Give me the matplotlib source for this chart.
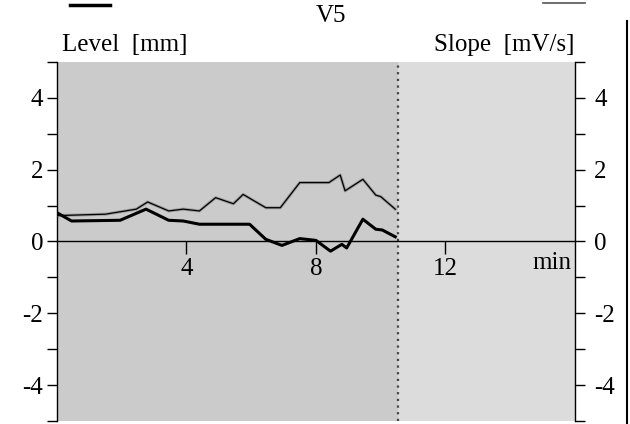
import matplotlib.pyplot as plt
from matplotlib.lines import Line2D

plt.rcParams['font.family'] = ['Liberation Serif', 'DejaVu Serif']

# Level [mm] (thick line)
t_level = [0.0, 0.45, 1.95, 2.75, 3.45, 3.9, 4.4, 5.95, 6.45, 6.95, 7.5, 8.0,
           8.45, 8.8, 8.95, 9.45, 9.85, 10.05, 10.45]
level = [0.80, 0.57, 0.59, 0.90, 0.59, 0.57, 0.48, 0.48, 0.06, -0.11, 0.08, 0.03,
         -0.27, -0.08, -0.18, 0.62, 0.34, 0.32, 0.13]

# Slope [mV/s] (thin line)
t_slope = [0.0, 1.5, 2.45, 2.8, 3.45, 3.9, 4.4, 4.9, 5.45, 5.75, 6.45, 6.9,
           7.5, 8.4, 8.75, 8.9, 9.45, 9.85, 10.0, 10.45]
slope = [0.72, 0.76, 0.90, 1.10, 0.85, 0.90, 0.85, 1.22, 1.05, 1.31, 0.94, 0.94,
         1.64, 1.64, 1.85, 1.41, 1.73, 1.29, 1.25, 0.90]

y_ticks = [-4, -2, 0, 2, 4]
x_ticks = [4, 8, 12]
end_time = 10.55
fs = 18

fig = plt.figure(figsize=(6.3, 4.24), dpi=100)
ax = fig.add_axes([0.0905, 0.007, 0.822, 0.847])
ax.set_xlim(0, 16)
ax.set_ylim(-5, 5)

ax.axvspan(0, end_time, color='#cbcbcb', lw=0, zorder=0)
ax.axvspan(end_time, 16, color='#dcdcdc', lw=0, zorder=0)
ax.axvline(end_time, color='#444444', ls=(0, (1, 2)), lw=1.6, zorder=2)

ax.plot(t_slope, slope, color='#6e6e6e', lw=2.2, alpha=0.5, zorder=3)
ax.plot(t_slope, slope, color='black', lw=0.9, zorder=4)
ax.plot(t_level, level, color='black', lw=2.2, zorder=4)

ax.spines['top'].set_visible(False)
ax.spines['right'].set_visible(False)
ax.spines['bottom'].set_position(('data', 0))
ax.spines['bottom'].set_linewidth(1.0)
ax.spines['left'].set_linewidth(1.0)

ax.set_xticks(x_ticks)
ax.set_xticklabels([str(v) for v in x_ticks], fontsize=fs)
ax.tick_params(axis='x', direction='out', length=9, width=1, pad=3)
ax.set_yticks(y_ticks)
ax.set_yticks(range(-5, 6), minor=True)
ax.set_yticklabels([str(v) for v in y_ticks], fontsize=fs)
ax.tick_params(axis='y', which='both', direction='out', length=7, width=1, pad=3)

ax2 = ax.twinx()
ax2.set_ylim(-5, 5)
ax2.spines['top'].set_visible(False)
ax2.spines['left'].set_visible(False)
ax2.spines['bottom'].set_visible(False)
ax2.spines['right'].set_linewidth(1.0)
ax2.set_yticks(y_ticks)
ax2.set_yticks(range(-5, 6), minor=True)
ax2.set_yticklabels([str(v) for v in y_ticks], fontsize=fs)
ax2.tick_params(axis='y', which='both', direction='out', length=7, width=1, pad=7)

ax.text(15.9, -0.3, 'min', fontsize=fs, ha='right', va='top')

fig.text(0.098, 0.893, 'Level  [mm]', fontsize=fs, ha='left', va='center')
fig.text(0.912, 0.893, 'Slope  [mV/s]', fontsize=fs, ha='right', va='center')
fig.text(0.525, 0.962, 'V5', fontsize=fs, ha='center', va='center')

fig.add_artist(Line2D([0.111, 0.175], [0.988, 0.988], color='black', lw=2.5))
fig.add_artist(Line2D([0.862, 0.928], [0.993, 0.993], color='#555555', lw=1.2))
fig.add_artist(Line2D([0.995, 0.995], [0.0, 0.95], color='black', lw=1.5))

fig.savefig('out.png', dpi=100)
